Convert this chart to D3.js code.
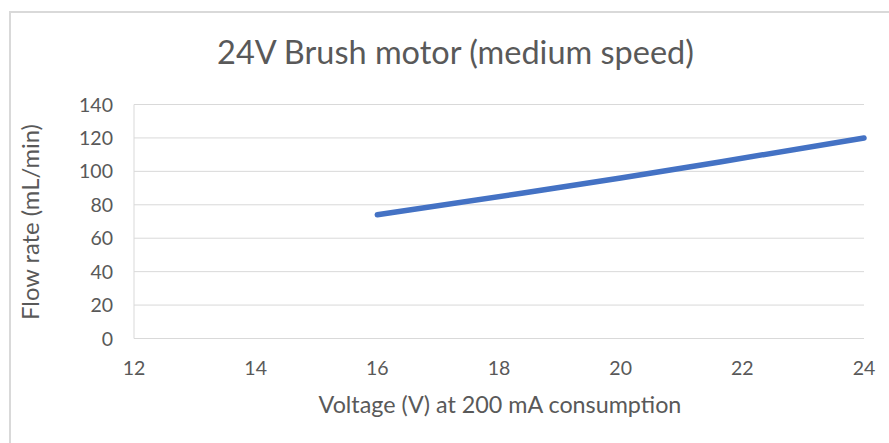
<!DOCTYPE html>
<meta charset="utf-8">
<style>
    body { margin: 0; background: #fff; }
    text { font-family: Lato, "Open Sans", sans-serif; fill: #595959; }
    .grid line { stroke: #d9d9d9; stroke-width: 1; }
</style>
<svg width="889" height="443"></svg>
<script src="https://cdn.jsdelivr.net/npm/d3@7"></script>
<script>

    // data
    var voltage = [16, 20, 24];
    var flow = [74, 96, 120];
    var xTicks = [12, 14, 16, 18, 20, 22, 24];
    var yTicks = [0, 20, 40, 60, 80, 100, 120, 140];

    var title = "24V Brush motor (medium speed)";
    var xTitle = "Voltage (V) at 200 mA consumption";
    var yTitle = "Flow rate (mL/min)";

    var svg = d3.select("svg"),
        margin = {left: 134, right: 25, top: 104.5, bottom: 104.5},
        width = +svg.attr("width"),
        height = +svg.attr("height");

    // chart area border
    svg.append("rect")
        .attr("x", 10).attr("y", 12)
        .attr("width", width).attr("height", height)
        .attr("fill", "#fff")
        .attr("stroke", "#d9d9d9").attr("stroke-width", 2);

    var x = d3.scaleLinear().domain([12, 24]).range([margin.left, width - margin.right]);
    var y = d3.scaleLinear().domain([0, 140]).range([height - margin.bottom, margin.top]);

    // gridlines
    svg.append("g").attr("class", "grid")
        .selectAll("line").data(yTicks).enter().append("line")
        .attr("x1", x(12)).attr("x2", x(24))
        .attr("y1", function(d) { return y(d); })
        .attr("y2", function(d) { return y(d); });

    // value axis line on the left
    svg.append("line")
        .attr("x1", x(12)).attr("x2", x(12))
        .attr("y1", y(0)).attr("y2", y(140))
        .attr("stroke", "#d9d9d9");

    // fit a text to a target width by scaling its font size
    function fit(sel, w) {
        var len = sel.node().getComputedTextLength();
        var fs = parseFloat(sel.style("font-size"));
        sel.style("font-size", (fs * w / len) + "px");
    }

    // y tick labels
    svg.append("g").selectAll("text").data(yTicks).enter().append("text")
        .attr("x", 113)
        .attr("y", function(d) { return y(d); })
        .attr("dy", "0.36em")
        .attr("text-anchor", "end")
        .style("font-size", "19.5px")
        .text(function(d) { return d; });

    // x tick labels
    svg.append("g").selectAll("text").data(xTicks).enter().append("text")
        .attr("x", function(d) { return x(d); })
        .attr("y", 375)
        .attr("text-anchor", "middle")
        .style("font-size", "19.5px")
        .text(function(d) { return d; });

    // the series
    var line = d3.line()
        .x(function(d, i) { return x(voltage[i]); })
        .y(function(d) { return y(d); })
        .curve(d3.curveCatmullRom);

    svg.append("path")
        .datum(flow)
        .attr("d", line)
        .attr("fill", "none")
        .attr("stroke", "#4472c4")
        .attr("stroke-width", 5.5)
        .attr("stroke-linecap", "round")
        .attr("stroke-linejoin", "round");

    // titles
    var t = svg.append("text")
        .attr("x", 455.5).attr("y", 64)
        .attr("text-anchor", "middle")
        .style("font-size", "30px")
        .text(title);
    fit(t, 477);

    var xt = svg.append("text")
        .attr("x", 500).attr("y", 413)
        .attr("text-anchor", "middle")
        .style("font-size", "21px")
        .text(xTitle);
    fit(xt, 363);

    var yt = svg.append("text")
        .attr("transform", "translate(39," + 222 + ") rotate(-90)")
        .attr("text-anchor", "middle")
        .style("font-size", "21px")
        .text(yTitle);
    fit(yt, 196);

</script>
